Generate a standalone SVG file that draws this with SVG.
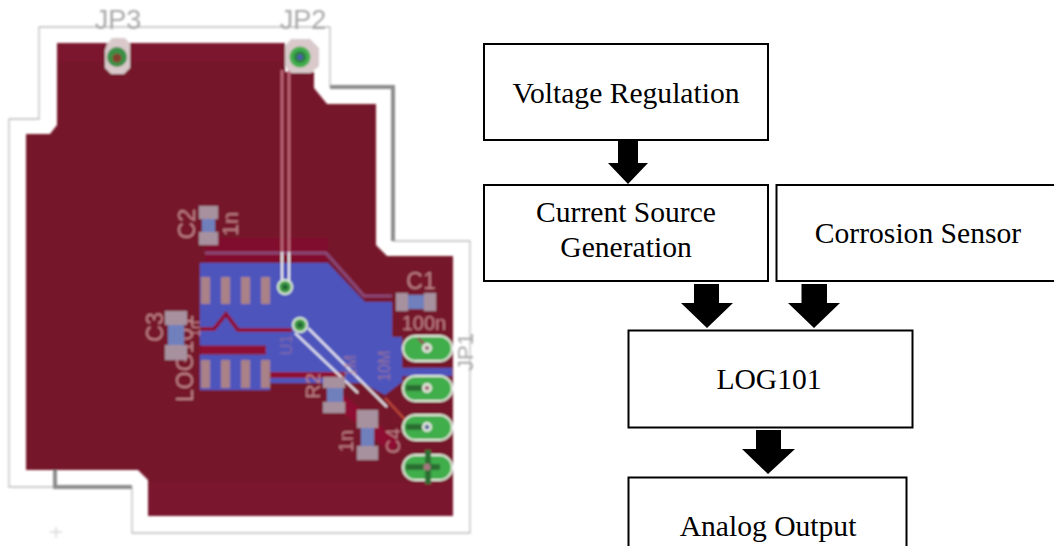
<svg xmlns="http://www.w3.org/2000/svg" width="1054" height="546" viewBox="0 0 1054 546">
<style>
.box{fill:#fff;stroke:#000;stroke-width:2}
.lbl{font-family:"Liberation Serif","Times New Roman",serif;font-size:29.6px;fill:#000;text-anchor:middle}
.arrow{fill:#000;stroke:none}
.thin{fill:none;stroke:#bdbdbd;stroke-width:1.3}
.thick{fill:none;stroke:#8c8c8c;stroke-width:4}
.silk{font-family:"Liberation Sans",Arial,sans-serif;fill:#c08288;text-anchor:middle}
.gray{font-family:"Liberation Sans",Arial,sans-serif;fill:#a8a8a8;text-anchor:middle}
.padc{fill:#a8919f}
.padm{fill:#6f80bd}
.pin{fill:#a98187}
.pad{fill:#3fae4c;stroke:#e6efe0;stroke-width:2}
.wire{stroke:#f3f1f6;stroke-width:2;fill:none}
</style>
<defs>
<filter id="soft" x="-5%" y="-5%" width="110%" height="110%"><feGaussianBlur stdDeviation="1"/></filter>
</defs>
<rect width="1054" height="546" fill="#fff"/>
<g id="pcb" filter="url(#soft)">
<path class="thin" d="M330 87V27H39V119H9V487H55M132 487V533H470V241H393"/>
<path class="thick" d="M330 87H393V241M55 470V487H132"/>
<path d="M57 43H285V72H314V88L327 104H376V245L387 256H453V516H148V480L138 470H26V134H50L57 125Z" fill="#76142b"/>
<path d="M57 43H285V62H57Z" fill="#7f1030" opacity=".5"/>
<path d="M148 482H453V516H148Z" fill="#7e1030" opacity=".5"/>
<path d="M205 238H328V262H205Z" fill="#860f30" opacity=".7"/>
<path d="M205 253H326L364 296H392" fill="none" stroke="#8b4a78" stroke-width="3"/>
<path d="M200 263H328L365 302H392V337H402V368H452V376H402V382L385 395L362 383H270V390H200Z" fill="#4d55bd"/>
<path d="M200 329H214L226 314L238 330H292" fill="none" stroke="#8e1030" stroke-width="4"/>
<path d="M200 350H266" fill="none" stroke="#8e1030" stroke-width="9"/>
<path d="M266 375H345" fill="none" stroke="#8e1030" stroke-width="6"/>
<path d="M333 395L395 447" stroke="#8e1030" stroke-width="14" fill="none"/>
<path d="M385 398L410 425" stroke="#c24a3a" stroke-width="2" fill="none"/>
<path d="M282 70V252M289 70V252" stroke="#c06a7c" stroke-width="2.500" fill="none"/>
<path class="wire" d="M282 252V283M289 252V283"/>
<path class="wire" d="M308 328L387 407M295 333L358 393"/>

<g id="JP3">
<path d="M107 44L112 38H125L130 44V68L124 74H111L105 68V50Z" fill="#d9c9cb"/>
<circle cx="117" cy="57" r="10" fill="#3a8f45"/>
<circle cx="117" cy="58" r="4.500" fill="#84402f"/>
<text class="gray" x="118" y="29" font-size="27">JP3</text>
</g>
<g id="JP2">
<path d="M291 39H310L319 48V66L311 73H291L285 66V46Z" fill="#d9c9cb"/>
<circle cx="300" cy="57" r="10.500" fill="#3fae4c"/>
<circle cx="300" cy="57" r="6" fill="#2f7d45"/>
<circle cx="300" cy="57" r="2.500" fill="#4d55bd"/>
<text class="gray" x="303" y="29" font-size="27">JP2</text>
</g>
<g id="vias">
<circle cx="285" cy="287" r="8" fill="#dff0d8"/><circle cx="285" cy="287" r="6" fill="#3c9a45"/><circle cx="285" cy="287" r="2.500" fill="#1f5f30"/>
<circle cx="300" cy="325" r="8" fill="#dff0d8"/><circle cx="300" cy="325" r="6" fill="#3c9a45"/><circle cx="300" cy="325" r="2.500" fill="#1f5f30"/>
</g>
<g id="U1">
<rect class="pin" x="201" y="277" width="9" height="27"/>
<rect class="pin" x="221" y="277" width="9" height="27"/>
<rect class="pin" x="241" y="277" width="9" height="27"/>
<rect class="pin" x="261" y="277" width="9" height="27"/>
<rect class="pin" x="201" y="360" width="9" height="28"/>
<rect class="pin" x="221" y="360" width="9" height="28"/>
<rect class="pin" x="241" y="360" width="9" height="28"/>
<rect class="pin" x="261" y="360" width="9" height="28"/>
<text class="silk" transform="translate(292 345) rotate(-90)" font-size="16" opacity=".45">U1</text>
<text class="silk" transform="translate(193 402) rotate(-90)" font-size="23" style="text-anchor:start">LOG101</text>
</g>
<g id="C2">
<rect class="padc" x="199" y="206" width="19" height="13"/>
<rect class="padc" x="199" y="232" width="19" height="13"/>
<rect class="padm" x="202" y="219" width="13" height="13"/>
<text class="silk" transform="translate(195 224) rotate(-90)" font-size="24">C2</text>
<text class="silk" transform="translate(238 224) rotate(-90)" font-size="22">1n</text>
</g>
<g id="C3">
<rect class="padc" x="165" y="311" width="22" height="14"/>
<rect class="padc" x="165" y="345" width="22" height="15"/>
<rect class="padm" x="168" y="325" width="16" height="20"/>
<text class="silk" transform="translate(163 327) rotate(-90)" font-size="23">C3</text>
<text class="silk" transform="translate(200 329) rotate(-90)" font-size="15">1n</text>
</g>
<g id="C1">
<rect class="padc" x="396" y="293" width="12" height="18"/>
<rect class="padc" x="424" y="293" width="12" height="18"/>
<rect class="padm" x="408" y="295" width="16" height="14"/>
<text class="silk" x="421" y="289" font-size="23">C1</text>
<text class="silk" x="424" y="330" font-size="20">100n</text>
</g>
<g id="R2">
<rect class="padc" x="323" y="377" width="22" height="11"/>
<rect class="padc" x="323" y="402" width="22" height="11"/>
<rect class="padm" x="327" y="388" width="16" height="14"/>
<text class="silk" transform="translate(320 386) rotate(-90)" font-size="20">R2</text>
<text class="silk" transform="translate(356 366) rotate(-90)" font-size="16" opacity=".6">1M</text>
<text class="silk" transform="translate(390 366) rotate(-90)" font-size="16" opacity=".6">10M</text>
</g>
<g id="C4">
<rect class="padc" x="357" y="410" width="21" height="18"/>
<rect class="padc" x="357" y="446" width="21" height="14"/>
<rect class="padm" x="361" y="428" width="13" height="18"/>
<text class="silk" transform="translate(353 441) rotate(-90)" font-size="20">1n</text>
<text class="silk" transform="translate(400 441) rotate(-90)" font-size="20">C4</text>
</g>
<g id="JP1">
<rect class="pad" x="403" y="336" width="49" height="25" rx="12.500"/>
<rect class="pad" x="403" y="376" width="49" height="25" rx="12.500"/>
<rect class="pad" x="403" y="415" width="49" height="25" rx="12.500"/>
<rect class="pad" x="403" y="455" width="49" height="25" rx="12.500"/>
<path d="M418 338L428 348" stroke="#8a5a50" stroke-width="3"/>
<circle cx="427" cy="348" r="5" fill="#e5eee0"/><circle cx="427" cy="348" r="2.500" fill="#9b7a80"/>
<path d="M406 388H425M406 427H425M406 467H440M428 450V484" stroke="#2a6e33" stroke-width="6" fill="none"/>
<circle cx="427" cy="388" r="5" fill="#e5eee0"/><circle cx="427" cy="388" r="2.500" fill="#a66a78"/>
<circle cx="427" cy="427" r="5" fill="#e5eee0"/><circle cx="427" cy="427" r="2.500" fill="#5a66a0"/>
<circle cx="427" cy="467" r="3.500" fill="#a67880"/>
<text class="gray" transform="translate(473 352) rotate(-90)" font-size="22">JP1</text>
</g>
<path d="M50 532H62M56 527V538" stroke="#c8c8c8" stroke-width="1" fill="none"/>
</g>
<g id="voltage-regulation">
<rect class="box" x="484" y="44" width="284" height="96"/>
<text class="lbl" x="626" y="103">Voltage Regulation</text>
</g>
<g id="current-source">
<rect class="box" x="484" y="185" width="284" height="96"/>
<text class="lbl" x="626" y="222">Current Source</text>
<text class="lbl" x="626" y="257">Generation</text>
</g>
<g id="corrosion-sensor">
<rect class="box" x="776.500" y="185" width="290" height="96"/>
<text class="lbl" x="918" y="243">Corrosion Sensor</text>
</g>
<g id="log101">
<rect class="box" x="628.500" y="330.500" width="284" height="97"/>
<text class="lbl" x="769" y="389">LOG101</text>
</g>
<g id="analog-output">
<rect class="box" x="628.500" y="477.500" width="278" height="90"/>
<text class="lbl" x="768" y="536">Analog Output</text>
</g>
<g id="connectors">
<polygon class="arrow" points="618,141 638,141 638,163 648,163 628,184 608,163 618,163"/>
<polygon class="arrow" points="694,284 719,284 719,303 733,303 707,328 681,303 694,303"/>
<polygon class="arrow" points="801.500,284 827,284 827,303 840,303 814,328 788,303 801.500,303"/>
<polygon class="arrow" points="756,430 781,430 781,449 795,449 768,474 742,449 756,449"/>
</g>
</svg>
